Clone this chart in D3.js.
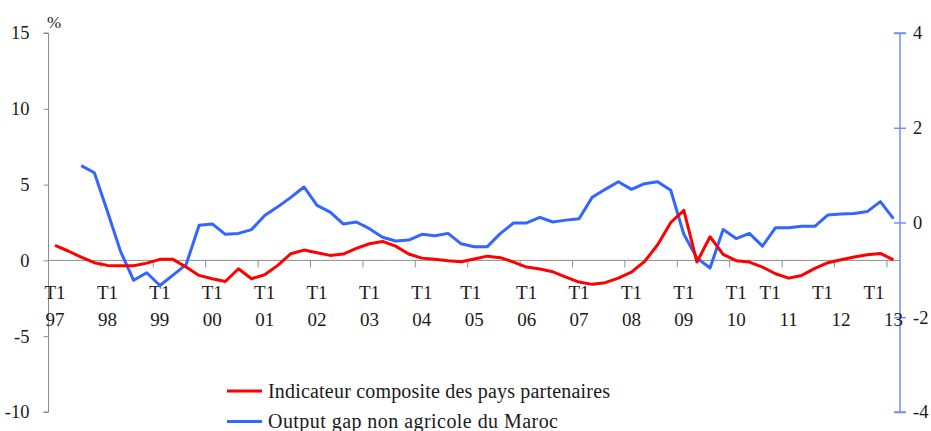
<!DOCTYPE html>
<html>
<head>
<meta charset="utf-8">
<script src="https://cdn.jsdelivr.net/npm/d3@7"></script>
<style>
  body { margin: 0; background: #fff; }
  svg text { font-family: "Liberation Serif", "DejaVu Serif", serif; fill: #1a1a1a; }
</style>
</head>
<body>
<script>
// DATA
const years = ['97', '98', '99', '00', '01', '02', '03', '04', '05', '06', '07', '08', '09', '10', '11', '12', '13'];
const quarters = ['T1', 'T2', 'T3', 'T4'];

// Indicateur composite des pays partenaires (%), 97T1 -> 13T1
const composite = [
  0.99, 0.62, 0.22, -0.15, -0.33, -0.35, -0.35, -0.18, 0.07, 0.07,
  -0.44, -0.99, -1.21, -1.39, -0.55, -1.21, -0.95, -0.33, 0.44, 0.68,
  0.5, 0.33, 0.42, 0.79, 1.1, 1.25, 0.94, 0.42, 0.15, 0.07,
  -0.02, -0.09, 0.09, 0.28, 0.18, -0.11, -0.44, -0.57, -0.75, -1.1,
  -1.43, -1.58, -1.47, -1.17, -0.77, -0.07, 1.03, 2.5, 3.3, -0.11,
  1.56, 0.4, -0.02, -0.11, -0.44, -0.88, -1.17, -0.99, -0.53, -0.15,
  0.04, 0.22, 0.37, 0.46, 0.04
];

// Output gap non agricole du Maroc (right axis), starts 97T3
const outputGap = [
  null, null, 1.2, 1.05, 0.23, -0.61, -1.22, -1.06, -1.33, -1.11,
  -0.89, -0.06, -0.03, -0.25, -0.23, -0.15, 0.15, 0.33, 0.53, 0.75,
  0.36, 0.22, -0.03, 0.01, -0.13, -0.31, -0.39, -0.37, -0.25, -0.28,
  -0.23, -0.45, -0.51, -0.51, -0.23, -0.01, -0.01, 0.11, 0.01, 0.05,
  0.08, 0.53, 0.7, 0.86, 0.7, 0.82, 0.86, 0.68, -0.25, -0.75,
  -0.96, -0.15, -0.34, -0.23, -0.5, -0.11, -0.11, -0.08, -0.08, 0.16,
  0.18, 0.19, 0.23, 0.44, 0.08
];

const leftTicks = [-10, -5, 0, 5, 10, 15];
const rightTicks = [-4, -2, 0, 2, 4];
const seriesNames = ['Indicateur composite des pays partenaires', 'Output gap non agricole du Maroc'];

// categories 97T1 .. 13T1
const categories = [];
years.forEach((y) => quarters.forEach((q) => categories.push(q + ' ' + y)));
categories.splice(categories.indexOf('T1 13') + 1);

// LAYOUT
const width = 931;
const height = 431;
const plotLeft = 48.5;
const plotRight = 900;
const plotTop = 33;
const plotBottom = 412;
const red = '#ff0000';
const blue = '#3366ff';

// the T1 row of some labels is drawn off-centre in the original
const t1Shift = { '05': -3.5, '11': -18.5, '12': -18.5, '13': -19.5 };
const legendWidths = [342, 290];

const svg = d3
  .select('body')
  .append('svg')
  .attr('width', width)
  .attr('height', height);

const x = d3.scaleBand().domain(categories).range([plotLeft, plotRight]).padding(0);
const bw = x.bandwidth();
const yLeft = d3.scaleLinear().domain([-10, 15]).range([plotBottom, plotTop]);
const yRight = d3.scaleLinear().domain([-4, 4]).range([plotBottom, plotTop]);

const plain = (d) => String(d); // hyphen minus, like the original

// LEFT AXIS
const axisL = svg
  .append('g')
  .attr('transform', `translate(${plotLeft},0)`)
  .call(d3.axisLeft(yLeft).tickValues(leftTicks).tickSize(5).tickPadding(14).tickFormat(plain));
axisL.select('.domain').attr('stroke', '#8c8c8c').attr('d', `M-5,${plotTop}H0V${plotBottom}H-5`);
axisL.selectAll('.tick line').attr('stroke', '#8c8c8c');
axisL.selectAll('.tick text').attr('font-size', 18.5).attr('fill', '#1a1a1a');

svg.append('text').text('%').attr('x', 47).attr('y', 28).attr('font-size', 17);

// RIGHT AXIS
const axisR = svg
  .append('g')
  .attr('transform', `translate(${plotRight},0)`)
  .call(d3.axisRight(yRight).tickValues(rightTicks).tickSize(6).tickPadding(7).tickFormat(plain));
axisR.select('.domain').attr('stroke', '#7090ff').attr('stroke-width', 1.5).attr('d', `M-6,${plotTop}H6M0,${plotTop}V${plotBottom}M-6,${plotBottom}H6`);
axisR.selectAll('.tick line').attr('stroke', '#7090ff').attr('stroke-width', 1.5).attr('x1', -6);
axisR.selectAll('.tick text').attr('font-size', 18.5).attr('fill', '#1a1a1a');

// CATEGORY AXIS at 0
const yearStarts = categories.filter((c) => c.startsWith('T1'));
const axisX = svg
  .append('g')
  .attr('transform', `translate(0,${yLeft(0)})`)
  .call(d3.axisBottom(x).tickValues(yearStarts).tickSize(0).tickFormat(''));
axisX.select('.domain').attr('stroke', '#8c8c8c').attr('d', `M${plotLeft},0H${plotRight}`);

axisX
  .selectAll('.tick')
  .filter((d) => d !== 'T1 97')
  .append('line')
  .attr('x1', -bw / 2)
  .attr('x2', -bw / 2)
  .attr('y1', 0)
  .attr('y2', 7)
  .attr('stroke', '#8c8c8c');

axisX.selectAll('.tick text').remove();
const lbl = axisX.selectAll('.tick').append('text').attr('font-size', 19).attr('text-anchor', 'middle').attr('fill', '#1a1a1a');
lbl
  .append('tspan')
  .attr('x', (d) => t1Shift[d.split(' ')[1]] || 0)
  .attr('y', 39)
  .text((d) => d.split(' ')[0]);
lbl
  .append('tspan')
  .attr('x', 0)
  .attr('y', 66)
  .text((d) => d.split(' ')[1]);

// LINES
const lineL = d3
  .line()
  .defined((d) => d != null)
  .x((d, i) => x(categories[i]) + bw / 2)
  .y((d) => yLeft(d));

const lineR = d3
  .line()
  .defined((d) => d != null)
  .x((d, i) => x(categories[i]) + bw / 2)
  .y((d) => yRight(d));

svg
  .append('path')
  .datum(outputGap)
  .attr('d', lineR)
  .attr('fill', 'none')
  .attr('stroke', blue)
  .attr('stroke-width', 3)
  .attr('stroke-linejoin', 'round');

svg
  .append('path')
  .datum(composite)
  .attr('d', lineL)
  .attr('fill', 'none')
  .attr('stroke', red)
  .attr('stroke-width', 3)
  .attr('stroke-linejoin', 'round');

// LEGEND
const legend = svg.append('g');
[red, blue].forEach((c, i) => {
  const ly = 391 + i * 30.5;
  legend.append('line').attr('x1', 227).attr('x2', 262).attr('y1', ly).attr('y2', ly).attr('stroke', c).attr('stroke-width', 3);
  legend
    .append('text')
    .text(seriesNames[i])
    .attr('x', 268)
    .attr('y', ly + 6.5)
    .attr('font-size', 20)
    .attr('textLength', legendWidths[i])
    .attr('lengthAdjust', 'spacing');
});
</script>
</body>
</html>
